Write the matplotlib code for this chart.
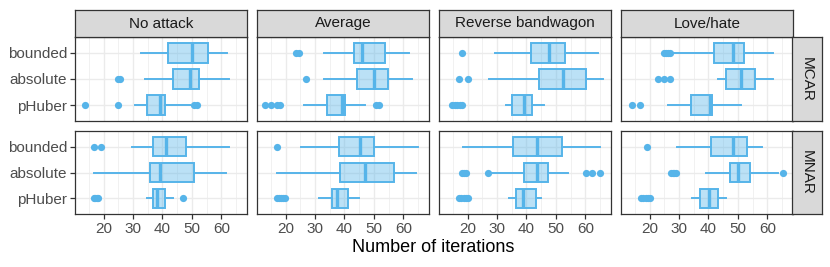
import matplotlib
matplotlib.use("Agg")
import matplotlib.pyplot as plt
import numpy as np

plt.rcParams['font.family'] = ['Liberation Sans', 'DejaVu Sans']

# ---------------- data ----------------
methods = ["bounded", "absolute", "pHuber"]
attacks = ["No attack", "Average", "Reverse bandwagon", "Love/hate"]
mechanisms = ["MCAR", "MNAR"]

# per mechanism -> per attack -> per method (bounded, absolute, pHuber)
whislo = {
    "MCAR": [[32.8, 33.9, 30.8], [33.1, 33.1, 26.1], [29.2, 27.2, 33.2], [28.0, 43.2, 26.1]],
    "MNAR": [[29.7, 16.7, 34.9], [25.1, 17.1, 31.3], [18.3, 28.2, 34.2], [29.2, 39.2, 34.3]],
}
q1 = {
    "MCAR": [[41.9, 43.7, 34.8], [43.1, 44.1, 34.0], [41.5, 44.3, 35.0], [42.0, 46.0, 33.9]],
    "MNAR": [[36.8, 35.8, 36.8], [38.1, 38.5, 35.9], [35.5, 39.3, 36.3], [40.8, 47.3, 37.0]],
}
median = {
    "MCAR": [[50.2, 49.5, 39.3], [46.1, 49.9, 39.3], [47.7, 52.3, 39.2], [48.4, 51.1, 40.6]],
    "MNAR": [[41.1, 39.2, 38.2], [45.4, 47.1, 37.4], [43.5, 43.6, 38.9], [48.4, 50.0, 40.1]],
}
q3 = {
    "MCAR": [[55.6, 52.5, 40.9], [53.7, 54.9, 40.1], [53.2, 60.3, 42.0], [52.1, 55.9, 41.2]],
    "MNAR": [[47.9, 50.7, 40.7], [49.9, 56.7, 41.1], [52.0, 47.2, 43.3], [53.1, 54.2, 43.3]],
}
whishi = {
    "MCAR": [[61.8, 62.8, 49.2], [62.0, 63.0, 46.9], [64.2, 66.1, 46.0], [62.1, 62.1, 51.1]],
    "MNAR": [[62.8, 61.7, 43.6], [65.1, 64.3, 45.1], [65.0, 54.2, 45.1], [58.2, 63.5, 46.0]],
}
outliers = {
    "MCAR": [
        [[], [25.0, 25.6], [13.6, 24.7, 50.8, 51.8]],
        [[23.6, 24.6], [26.9], [12.9, 15.0, 17.2, 18.2, 50.8, 51.8]],
        [[18.1], [17.0, 20.1], [14.8, 15.6, 16.4, 17.3, 18.2]],
        [[24.7, 25.4, 26.1, 26.8], [22.9, 24.9, 26.8], [13.9, 16.8]],
    ],
    "MNAR": [
        [[16.6, 19.0], [], [16.6, 17.2, 17.8, 18.2, 46.9]],
        [[17.1], [], [16.9, 17.6, 18.3, 19.1, 19.9]],
        [[], [18.2, 18.8, 19.4, 26.9, 60.2, 62.3, 65.0], [17.0, 17.8, 18.6, 19.4, 20.2]],
        [[19.1], [27.2, 27.8, 28.4, 29.0, 65.2], [17.0, 17.8, 18.6, 19.4, 20.2]],
    ],
}
xticks = [20, 30, 40, 50, 60]
xminor = [15, 25, 35, 45, 55, 65]
xlabel = "Number of iterations"

# ---------------- style ----------------
W, H = 830, 267
BLUE = "#56B4E9"
FILL = (0x56 / 255, 0xB4 / 255, 0xE9 / 255, 0.4)
GRID = "#EBEBEB"
BORDER = "#333333"
STRIP = "#D9D9D9"
TXT = "#4D4D4D"

col_left = [75, 257, 439, 621]
col_w = 172
rows = [(37, 121), (131, 214)]
strip_top = 10
rstrip = (792, 822)

def rect(l, t, r, b):
    return [l / W, 1 - b / H, (r - l) / W, (b - t) / H]

# global x limits (fixed scales, 5% expansion)
allv = []
for m in mechanisms:
    for a in range(4):
        for k in range(3):
            allv += [whislo[m][a][k], whishi[m][a][k]] + outliers[m][a][k]
lo, hi = min(allv), max(allv)
pad = 0.05 * (hi - lo)
xlim = (lo - pad, hi + pad)

ypos = [3, 2, 1]

fig = plt.figure(figsize=(W / 100, H / 100), dpi=100)

for r, m in enumerate(mechanisms):
    t, b = rows[r]
    for c, a in enumerate(attacks):
        l = col_left[c]
        ax = fig.add_axes(rect(l, t, l + col_w, b))
        ax.set_xlim(*xlim)
        ax.set_ylim(0.4, 3.6)
        ax.set_xticks(xticks)
        ax.set_xticks(xminor, minor=True)
        ax.set_yticks(ypos)
        for v in xticks:
            ax.axvline(v, color=GRID, lw=1.0, zorder=0)
        for v in xminor:
            ax.axvline(v, color=GRID, lw=0.5, zorder=0)
        for v in ypos:
            ax.axhline(v, color=GRID, lw=1.0, zorder=0)
        stats = []
        for k, meth in enumerate(methods):
            stats.append(dict(whislo=whislo[m][c][k], q1=q1[m][c][k], med=median[m][c][k],
                              q3=q3[m][c][k], whishi=whishi[m][c][k],
                              fliers=outliers[m][c][k], label=meth))
        kw = dict(positions=ypos, widths=0.75, patch_artist=True, showcaps=False,
                  boxprops=dict(facecolor=FILL, edgecolor=BLUE, linewidth=1.4),
                  whiskerprops=dict(color=BLUE, linewidth=1.4),
                  medianprops=dict(color=BLUE, linewidth=2.4),
                  flierprops=dict(marker='o', markerfacecolor=BLUE, markeredgecolor=BLUE,
                                  markeredgewidth=0.0, markersize=5.2, linestyle='none'),
                  manage_ticks=False)
        try:
            ax.bxp(stats, orientation='horizontal', **kw)
        except TypeError:
            ax.bxp(stats, vert=False, **kw)
        ax.set_yticks(ypos)
        for s in ax.spines.values():
            s.set_color(BORDER)
            s.set_linewidth(0.9)
        ax.tick_params(axis='both', which='major', length=3.5, width=0.9, color=BORDER,
                       labelcolor=TXT, labelsize=11, pad=2)
        ax.tick_params(axis='x', which='minor', length=0)
        if c == 0:
            ax.set_yticklabels(methods)
        else:
            ax.tick_params(axis='y', length=0, labelleft=False)
        if r == 1:
            ax.set_xticklabels([str(v) for v in xticks])
        else:
            ax.tick_params(axis='x', length=0, labelbottom=False)

        # top strips
        if r == 0:
            sa = fig.add_axes(rect(l, strip_top, l + col_w, t))
            sa.set_facecolor(STRIP)
            sa.set_xticks([]); sa.set_yticks([])
            for s in sa.spines.values():
                s.set_color(BORDER); s.set_linewidth(0.9)
            sa.text(0.5, 0.5, a, ha='center', va='center', fontsize=11, color="#1A1A1A",
                    transform=sa.transAxes)
    # right strips
    ra = fig.add_axes(rect(rstrip[0], t, rstrip[1], b))
    ra.set_facecolor(STRIP)
    ra.set_xticks([]); ra.set_yticks([])
    for s in ra.spines.values():
        s.set_color(BORDER); s.set_linewidth(0.9)
    ra.text(0.5, 0.5, m, ha='center', va='center', rotation=270, fontsize=11,
            color="#1A1A1A", transform=ra.transAxes)

fig.text((75 + 792) / 2 / W, 1 - 248 / H, xlabel, ha='center', va='center',
         fontsize=13, color="black")

fig.savefig("out.png", dpi=100)
